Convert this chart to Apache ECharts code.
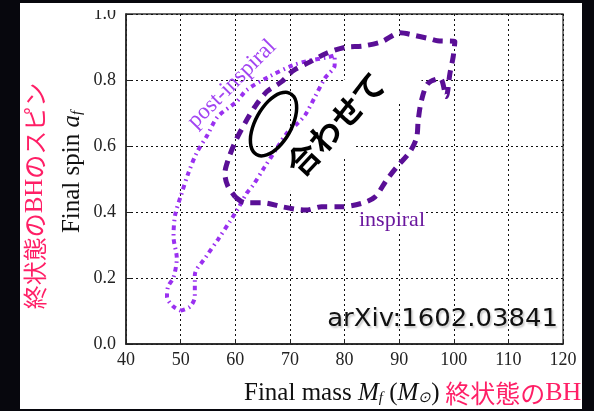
<!DOCTYPE html>
<html><head><meta charset="utf-8">
<script src="https://cdn.jsdelivr.net/npm/echarts@6/dist/echarts.min.js"></script>
<style>
html,body{margin:0;padding:0;background:#07070d;width:594px;height:411px;overflow:hidden}
#panel{position:absolute;left:20px;top:3px;width:562px;height:406px;background:#fff}
#chart{position:absolute;left:0;top:0;width:594px;height:411px}
</style></head><body>
<div id="panel"></div><div id="chart"></div>
<script>
const massTicks = [40, 50, 60, 70, 80, 90, 100, 110, 120];
const spinTicks = [0.0, 0.2, 0.4, 0.6, 0.8, 1.0];

const inspiralContour = [
  [60.0,0.446],[61.8,0.428],[65.1,0.428],[68.5,0.416],[71.2,0.408],[73.0,0.406],[75.8,0.416],
  [79.5,0.416],[83.1,0.426],[85.6,0.446],[87.7,0.497],[89.6,0.537],[92.0,0.583],[93.2,0.625],
  [93.5,0.679],[94.1,0.739],[95.3,0.790],[97.5,0.805],[98.6,0.750],[99.3,0.820],[99.9,0.871],
  [100.2,0.916],[97.0,0.919],[95.6,0.925],[92.6,0.936],[90.2,0.943],[86.8,0.916],[83.4,0.903],
  [80.1,0.899],[76.7,0.881],[73.7,0.855],[70.6,0.828],[68.5,0.795],[65.8,0.765],[63.6,0.719],
  [61.8,0.670],[60.0,0.613],[58.7,0.558],[58.1,0.517],[58.6,0.480],[60.0,0.446]
];

const postInspiralContour = [
  [50.0,0.101],[51.7,0.113],[52.6,0.143],[52.6,0.209],[54.6,0.263],[56.9,0.318],[59.0,0.371],
  [60.5,0.410],[62.1,0.457],[63.3,0.482],[65.4,0.537],[67.5,0.590],[69.5,0.640],[71.5,0.670],
  [72.8,0.694],[74.6,0.749],[76.4,0.805],[78.2,0.845],[78.2,0.875],[76.7,0.868],[73.1,0.857],
  [70.6,0.845],[66.4,0.812],[62.1,0.770],[60.3,0.735],[56.8,0.689],[54.8,0.630],[52.9,0.578],
  [51.4,0.517],[50.2,0.457],[49.0,0.391],[48.7,0.325],[49.3,0.260],[48.7,0.202],[47.7,0.174],
  [47.5,0.143],[48.7,0.113],[50.0,0.101]
];

const combinedEllipse = [
  [70.12,0.759],[70.75,0.749],[71.14,0.734],[71.24,0.714],[71.05,0.690],[70.59,0.665],
  [69.89,0.640],[68.99,0.617],[67.95,0.597],[66.85,0.582],[65.75,0.573],[64.75,0.570],
  [63.89,0.574],[63.26,0.584],[62.87,0.600],[62.77,0.620],[62.95,0.643],[63.41,0.668],
  [64.12,0.693],[65.02,0.716],[66.06,0.736],[67.16,0.751],[68.25,0.760],[69.26,0.763],
  [70.12,0.759]
];

const chart = echarts.init(document.getElementById('chart'), null, {renderer: 'canvas'});
const serif = 'Liberation Serif';
const jp = 'Noto Sans CJK JP';
const red = '#ff1f66';

chart.setOption({
  backgroundColor: 'transparent',
  animation: false,
  grid: {left: 126, right: 31, top: 14, bottom: 67, show: true, borderColor: '#333', borderWidth: 1.3, backgroundColor: 'transparent'},
  xAxis: {
    type: 'value', min: massTicks[0], max: massTicks[massTicks.length - 1], interval: 10,
    axisLine: {show: true, lineStyle: {color: '#222', width: 1.5}},
    axisTick: {show: true, inside: true, length: 5, lineStyle: {color: '#222'}},
    axisLabel: {color: '#222', fontFamily: serif, fontSize: 18, margin: 7},
    splitLine: {show: true, lineStyle: {color: '#111', width: 1, type: [2, 3]}}
  },
  yAxis: {
    type: 'value', min: spinTicks[0], max: spinTicks[spinTicks.length - 1], interval: 0.2,
    axisLine: {show: true, lineStyle: {color: '#222', width: 1.5}},
    axisTick: {show: true, inside: true, length: 5, lineStyle: {color: '#222'}},
    axisLabel: {color: '#222', fontFamily: serif, fontSize: 18, margin: 10, formatter: v => v.toFixed(1)},
    splitLine: {show: true, lineStyle: {color: '#111', width: 1, type: [2, 3]}}
  },
  series: [
    {type: 'line', name: 'post-inspiral', data: postInspiralContour, smooth: 0.3, symbol: 'none',
     lineStyle: {color: '#9a30f0', width: 4, type: [4.5, 4, 1.5, 4]}, z: 3},
    {type: 'line', name: 'inspiral', data: inspiralContour, smooth: 0.3, symbol: 'none',
     lineStyle: {color: '#5a0f96', width: 5, type: [10, 7]}, z: 4},
    {type: 'line', name: 'combined', data: combinedEllipse, smooth: 0.2, symbol: 'none',
     lineStyle: {color: '#000', width: 3.5}, z: 5}
  ],
  graphic: [
    {type: 'rect', x: 347, y: 116, rotation: Math.PI / 4, shape: {x: -93, y: -27.5, width: 186, height: 55}, style: {fill: '#fff'}, z: 1},
    {type: 'rect', x: 85, y: 3, shape: {x: 0, y: 0, width: 40, height: 7}, style: {fill: '#fff'}, z: 100},
    {type: 'rect', x: 582, y: 0, shape: {x: 0, y: 0, width: 12, height: 411}, style: {fill: '#07070d'}, z: 100},
    {type: 'text', x: 336, y: 124, rotation: 47 * Math.PI / 180, z: 50,
     style: {text: '合わせて', fontFamily: jp, fontWeight: 'bold', fontSize: 32, fill: '#000', textAlign: 'center', textVerticalAlign: 'middle'}},
    {type: 'text', x: 232, y: 84, rotation: Math.PI / 4, z: 50,
     style: {text: 'post-inspiral', fontFamily: serif, fontSize: 23, fill: '#a244f2', textAlign: 'center', textVerticalAlign: 'middle'}},
    {type: 'text', x: 392, y: 220, z: 50,
     style: {text: 'inspiral', fontFamily: serif, fontSize: 22, fill: '#6a179e', textAlign: 'center', textVerticalAlign: 'middle', backgroundColor: '#fff'}},
    {type: 'text', x: 558, y: 320, scaleX: 1.08, originX: 0, z: 50,
     style: {text: 'arXiv:1602.03841', fontFamily: 'DejaVu Sans', fontSize: 24, fill: '#111', textAlign: 'right', textVerticalAlign: 'middle',
             textShadowColor: 'rgba(0,0,0,0.22)', textShadowBlur: 2, textShadowOffsetX: 1.5, textShadowOffsetY: 1.5}},
    {type: 'text', x: 72, y: 172, rotation: Math.PI / 2, z: 50,
     style: {text: '{n|Final spin }{i|a}{s|f}', textAlign: 'center', textVerticalAlign: 'middle',
       rich: {n: {fontFamily: serif, fontSize: 25, fill: '#111'},
              i: {fontFamily: serif, fontStyle: 'italic', fontSize: 25, fill: '#111'},
              s: {fontFamily: serif, fontStyle: 'italic', fontSize: 15, fill: '#111', verticalAlign: 'bottom', lineHeight: 14}}}},
    {type: 'text', x: 35, y: 196, rotation: Math.PI / 2, z: 50,
     style: {text: '{r|終状態の}{b|BH}{r|のスピン}', textAlign: 'center', textVerticalAlign: 'middle',
       rich: {r: {fontFamily: jp, fontSize: 24, fill: red}, b: {fontFamily: serif, fontSize: 25, fill: red}}}},
    {type: 'text', x: 244, y: 393, z: 50,
     style: {text: '{n|Final mass }{i|M}{s|f}{n| (}{i|M}{s|⊙}{n|)}{r| 終状態の}{b|BH}{r|の質量}', textAlign: 'left', textVerticalAlign: 'middle',
       rich: {n: {fontFamily: serif, fontSize: 25, fill: '#111'},
              i: {fontFamily: serif, fontStyle: 'italic', fontSize: 25, fill: '#111'},
              s: {fontFamily: serif, fontStyle: 'italic', fontSize: 15, fill: '#111', verticalAlign: 'bottom', lineHeight: 14},
              r: {fontFamily: jp, fontSize: 25, fill: red},
              b: {fontFamily: serif, fontSize: 26, fill: red}}}}
  ]
});
</script>
</body></html>
